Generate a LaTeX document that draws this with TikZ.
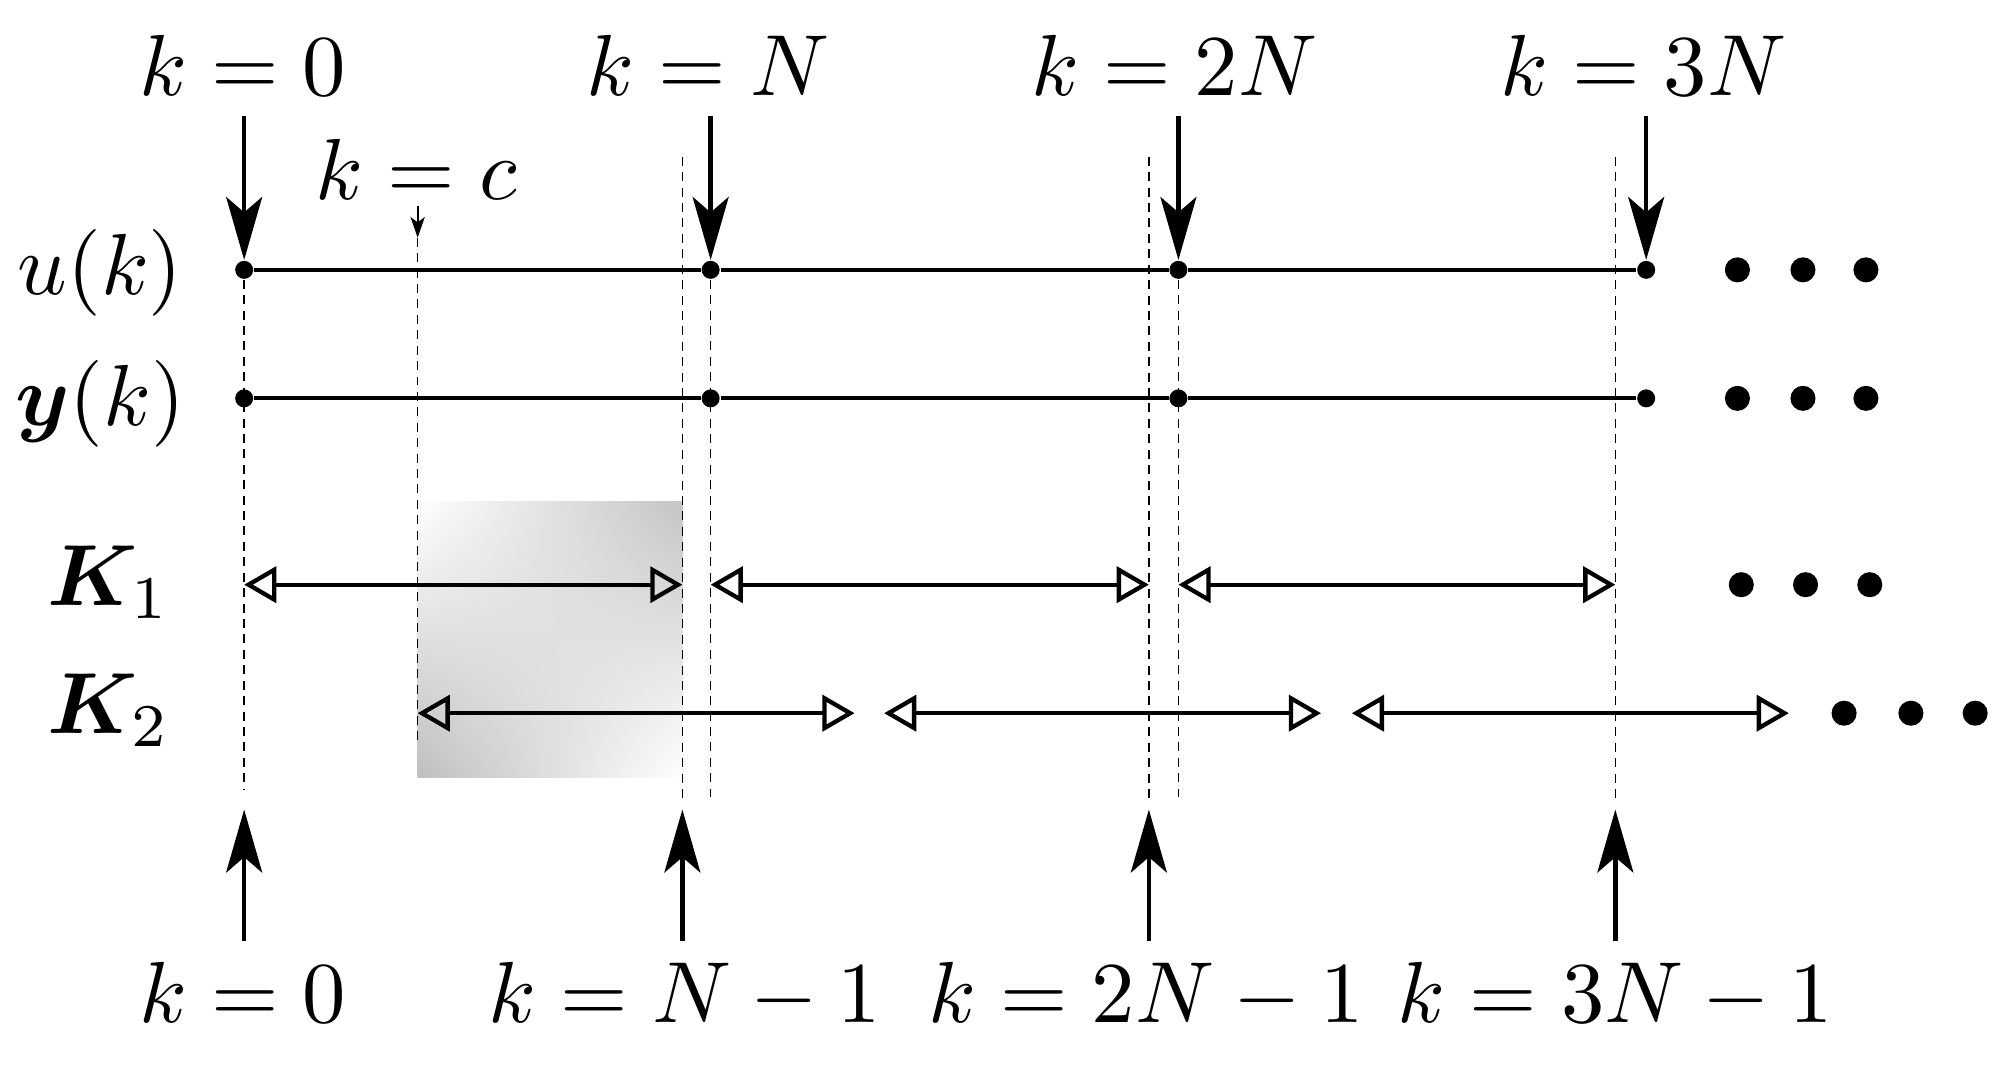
\documentclass[tikz,border=0pt]{standalone}
\usepackage{amsmath,bm}
\usetikzlibrary{arrows.meta,shadings}
\newcommand{\bigtxt}[1]{\scalebox{1.92}{#1}}
\begin{document}
\begin{tikzpicture}[x=0.1mm,y=-0.1mm,
  lbl/.style={font=\fontsize{10}{12}\selectfont, inner sep=4.5pt, anchor=base},
  pt/.style={circle, fill, inner sep=0pt, minimum size=1.4mm},
  bigdot/.style={circle, fill, inner sep=0pt, minimum size=1.95mm},
  guide/.style={dash pattern=on 0.7mm off 0.5mm, line width=0.3pt},
  row/.style={line width=0.95pt},
  bigarr/.style={line width=1pt, -{Stealth[length=4.9mm,width=2.8mm,inset=1.2mm]}},
  smallarr/.style={line width=0.5pt, -{Stealth[length=1.6mm,width=1.1mm,inset=0.4mm]}},
  karr/.style={line width=0.95pt, {Triangle[open,length=2.5mm,width=2.8mm]}-{Triangle[open,length=2.5mm,width=2.8mm]}}
]
\useasboundingbox (0,0) rectangle (1568,829);

% shaded block
\shade[upper left=white, upper right=black!23, lower left=black!25, lower right=white]
  (325,390) rectangle (531,605);

% row labels
\node[lbl] (lu) at (78,229) {\bigtxt{$u(k)$}};
\node[lbl] (ly) at (78,331) {\bigtxt{$\bm{y}(k)$}};
\node[lbl] (lk1) at (85,471) {\bigtxt{$\bm{K}_1$}};
\node[lbl] (lk2) at (85,571) {\bigtxt{$\bm{K}_2$}};

% sample points
\node[pt] (u0) at (190,210) {};
\node[pt] (uN) at (553,210) {};
\node[pt] (u2N) at (917,210) {};
\node[pt] (u3N) at (1281,210) {};
\node[pt] (y0) at (190,310) {};
\node[pt] (yN) at (553,310) {};
\node[pt] (y2N) at (917,310) {};
\node[pt] (y3N) at (1281,310) {};
\draw[row] (u0) -- (uN) -- (u2N) -- (u3N);
\draw[row] (y0) -- (yN) -- (y2N) -- (y3N);

% trailing dots
\foreach \n/\x/\y in {ua/1352/210, ub/1403/210, uc/1452/210,
                      ya/1352/310, yb/1403/310, yc/1452/310,
                      ka/1355/455, kb/1405/455, kc/1455/455,
                      ma/1435/555, mb/1487/555, mc/1537/555}
  \node[bigdot] (\n) at (\x,\y) {};

% dashed guides
\coordinate (g0) at (190,615);
\coordinate (gct) at (325,185);
\coordinate (gcb) at (325,578);
\coordinate (g1t) at (531,122);
\coordinate (g1b) at (531,625);
\coordinate (gNb) at (553,620);
\coordinate (g2t) at (894,122);
\coordinate (g2b) at (894,625);
\coordinate (g2Nb) at (917,620);
\coordinate (g3t) at (1257,122);
\coordinate (g3b) at (1257,625);
\draw[guide] (u0) -- (g0);
\draw[guide] (gct) -- (gcb);
\draw[guide] (g1t) -- (g1b);
\draw[guide] (uN) -- (gNb);
\draw[guide] (g2t) -- (g2b);
\draw[guide] (u2N) -- (g2Nb);
\draw[guide] (g3t) -- (g3b);

% top labels and arrows
\node[lbl] (t0) at (189,74) {\bigtxt{$k=0$}};
\node[lbl] (tN) at (551,74) {\bigtxt{$k=N$}};
\node[lbl] (t2N) at (914,74) {\bigtxt{$k=2N$}};
\node[lbl] (t3N) at (1279,74) {\bigtxt{$k=3N$}};
\draw[bigarr] (t0.south -| u0) -- (u0.north);
\draw[bigarr] (tN.south -| uN) -- (uN.north);
\draw[bigarr] (t2N.south -| u2N) -- (u2N.north);
\draw[bigarr] (t3N.south -| u3N) -- (u3N.north);

\node[lbl] (tc) at (324,155) {\bigtxt{$k=c$}};
\coordinate (ctop) at (325,160);
\draw[smallarr] (ctop) -- (gct);

% K arrows
\coordinate (k1a) at (190,455);  \coordinate (k1b) at (531,455);
\coordinate (k1c) at (553,455);  \coordinate (k1d) at (894,455);
\coordinate (k1e) at (917,455);  \coordinate (k1f) at (1257,455);
\coordinate (k2a) at (325,555);  \coordinate (k2b) at (665,555);
\coordinate (k2c) at (688,555);  \coordinate (k2d) at (1028,555);
\coordinate (k2e) at (1052,555); \coordinate (k2f) at (1392,555);
\draw[karr] (k1a) -- (k1b);
\draw[karr] (k1c) -- (k1d);
\draw[karr] (k1e) -- (k1f);
\draw[karr] (k2a) -- (k2b);
\draw[karr] (k2c) -- (k2d);
\draw[karr] (k2e) -- (k2f);

% bottom labels and arrows
\node[lbl] (b0) at (189,796) {\bigtxt{$k=0$}};
\node[lbl] (bN) at (533,796) {\bigtxt{$k=N-1$}};
\node[lbl] (b2N) at (892,796) {\bigtxt{$k=2N-1$}};
\node[lbl] (b3N) at (1257,796) {\bigtxt{$k=3N-1$}};
\coordinate (p0) at (190,630);
\coordinate (pN) at (531,630);
\coordinate (p2N) at (894,630);
\coordinate (p3N) at (1257,630);
\draw[bigarr] (b0.north -| p0) -- (p0);
\draw[bigarr] (bN.north -| pN) -- (pN);
\draw[bigarr] (b2N.north -| p2N) -- (p2N);
\draw[bigarr] (b3N.north -| p3N) -- (p3N);
\end{tikzpicture}
\end{document}
